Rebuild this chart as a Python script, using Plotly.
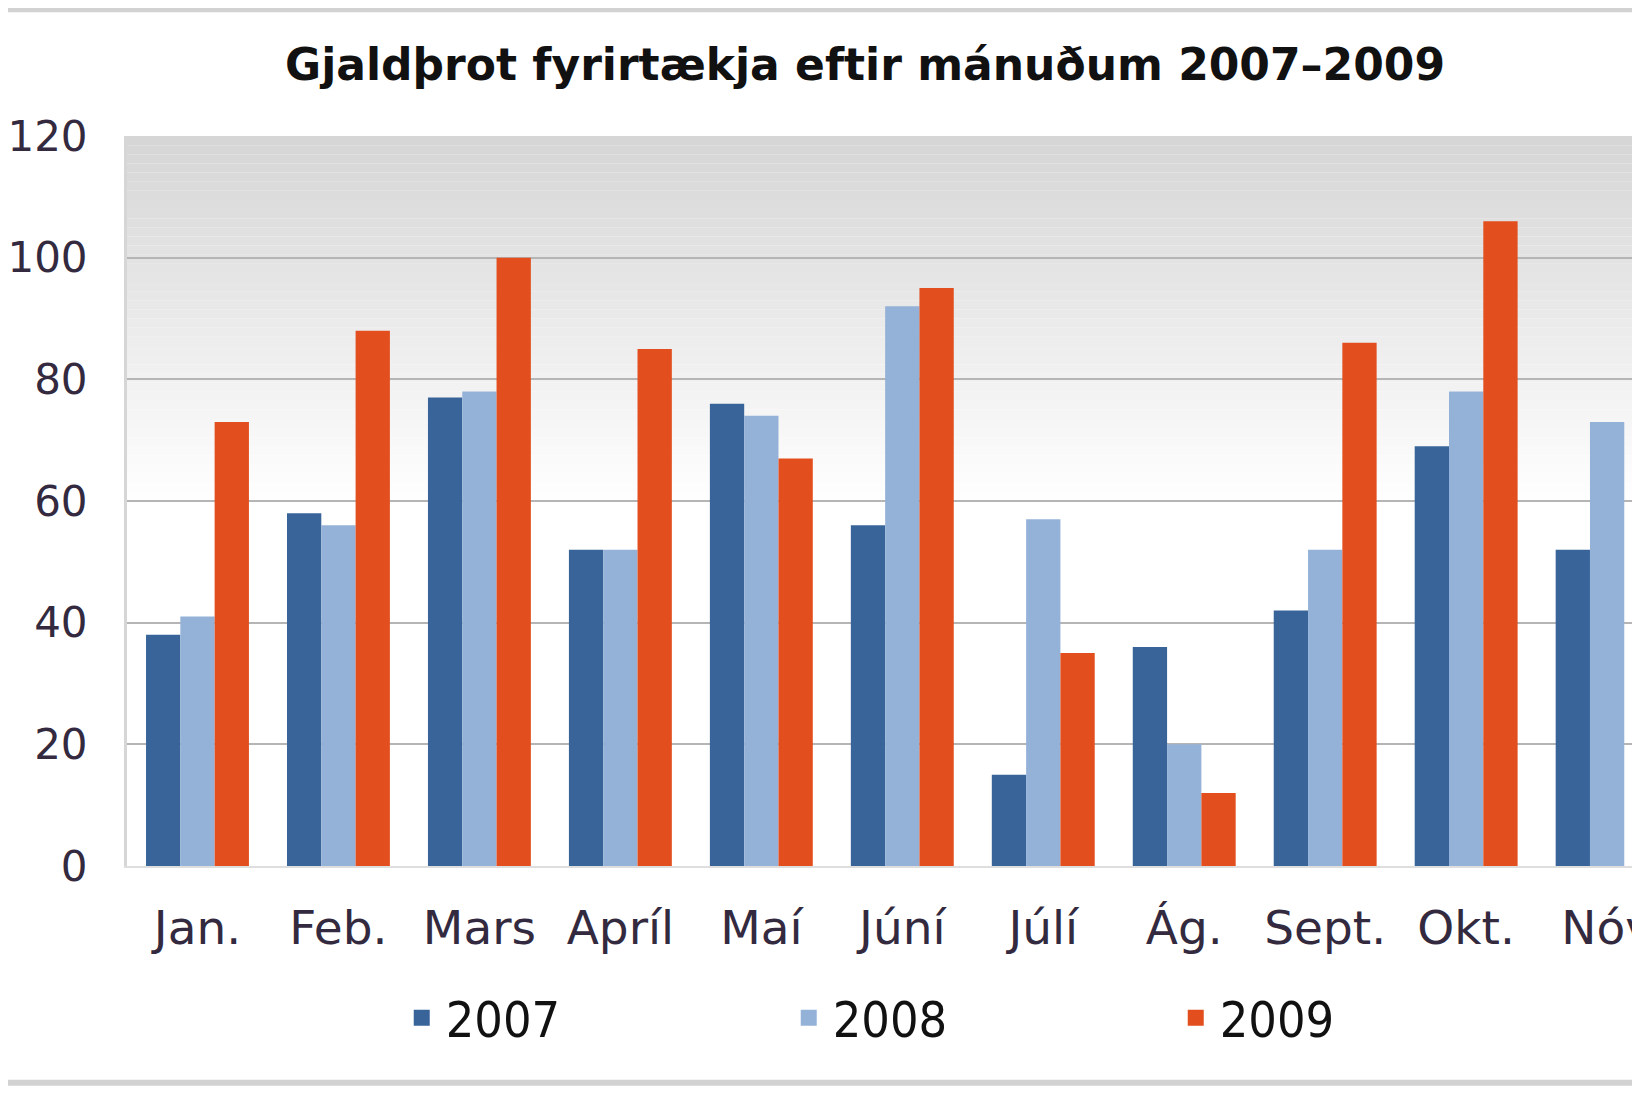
import plotly.graph_objects as go

# data
months = ["Jan.", "Feb.", "Mars", "Apríl", "Maí", "Júní", "Júlí", "Ág.", "Sept.", "Okt.", "Nóv"]
y2007 = [38, 58, 77, 52, 76, 56, 15, 36, 42, 69, 52]
y2008 = [41, 56, 78, 52, 74, 92, 57, 20, 52, 78, 73]
y2009 = [73, 88, 100, 85, 67, 95, 35, 12, 86, 106, None]
years = ["2007", "2008", "2009"]
y_ticks = [0, 20, 40, 60, 80, 100, 120]

colors = ["#38649a", "#94b2d8", "#e24e1d"]

fig = go.Figure()
for name, vals, col in zip(years, [y2007, y2008, y2009], colors):
    fig.add_trace(go.Bar(x=months, y=vals, name=name, showlegend=False,
                         marker=dict(color=col, line=dict(width=0))))
# legend entries with larger square swatches
for name, col in zip(years, colors):
    fig.add_trace(go.Scatter(x=[None], y=[None], name=name, mode="markers",
                             marker=dict(symbol="square", size=17, color=col)))

# gray-to-white gradient in the upper part of the plot area
shapes = []
n = 40
lo, hi = 60, 120
for i in range(n):
    y0 = lo + (hi - lo) * i / n
    y1 = lo + (hi - lo) * (i + 1) / n
    t = (i + 0.5) / n
    g = round(255 - (255 - 213) * t)
    shapes.append(dict(type="rect", xref="paper", yref="y", x0=0, x1=1, y0=y0, y1=y1,
                       fillcolor=f"rgb({g},{g},{g})", line=dict(width=0), layer="below"))
# frame lines at top and bottom of the picture
shapes.append(dict(type="line", xref="paper", yref="paper", x0=-0.1, x1=1.0, y0=1.173, y1=1.173,
                   line=dict(color="#d2d2d2", width=5)))
shapes.append(dict(type="line", xref="paper", yref="paper", x0=-0.1, x1=1.0, y0=-0.297, y1=-0.297,
                   line=dict(color="#d2d2d2", width=6)))

fig.update_layout(
    width=1640, height=1093,
    margin=dict(l=119, r=0, t=128, b=235, autoexpand=False),
    paper_bgcolor="white", plot_bgcolor="white",
    barmode="group", bargap=0.27, bargroupgap=0.0,
    title=dict(text="<b>Gjaldþrot fyrirtækja eftir mánuðum 2007–2009</b>",
               x=0.5226, xref="container", xanchor="center", y=0.948, yanchor="middle",
               font=dict(family="DejaVu Sans", size=44, color="#111111")),
    shapes=shapes,
    showlegend=True,
    legend=dict(orientation="h", x=0.178, xanchor="left", y=-0.208, yanchor="middle",
                entrywidth=334, entrywidthmode="pixels", itemwidth=38,
                font=dict(family="DejaVu Sans Condensed", size=50, color="#111111"),
                bgcolor="rgba(0,0,0,0)"),
    xaxis=dict(range=[-0.5, 10.29], showgrid=False, showline=True, linecolor="#dedede",
               linewidth=2, ticks="", ticklabelstandoff=20, automargin=False,
               tickfont=dict(family="DejaVu Sans", size=47, color="#332a40")),
    yaxis=dict(range=[0, 120], tickvals=y_ticks, showgrid=True, gridcolor="#b5b5b5",
               gridwidth=2, zeroline=False, showline=True, linecolor="#d6d6d6", linewidth=3,
               ticks="", ticklabelstandoff=28, automargin=False,
               tickfont=dict(family="DejaVu Sans", size=42, color="#332a40")),
)

fig.write_html("out.html")
